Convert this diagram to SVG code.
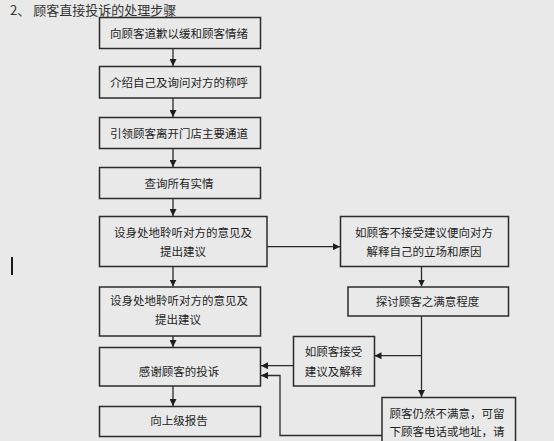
<svg xmlns="http://www.w3.org/2000/svg" width="554" height="441" viewBox="0 0 554 441">
<defs>
<style>
.box{fill:#e9e9e9;stroke:#2b2b2b;stroke-width:1.5}
.t{font-family:"Noto Sans CJK SC","Noto Sans",sans-serif;font-size:11.5px;fill:#1e1e1e;text-anchor:middle;dominant-baseline:central}
.ln{fill:none;stroke:#2b2b2b;stroke-width:1.3}
.title{font-family:"Noto Sans CJK SC","Noto Sans",sans-serif;font-size:13px;fill:#333;dominant-baseline:central}
</style>
<marker id="ah" markerWidth="7" markerHeight="7" refX="7" refY="3.5" orient="auto" markerUnits="userSpaceOnUse">
<path d="M0,0 L7,3.5 L0,7 z" fill="#1e1e1e"/>
</marker>
</defs>
<rect width="554" height="441" fill="#e9e9e9"/>
<text class="title" x="10" y="9.5">2、 顾客直接投诉的处理步骤</text>
<rect x="11" y="257" width="2" height="18" fill="#1a1a1a"/>

<g id="connectors">
<line class="ln" x1="173" y1="48" x2="173" y2="66" marker-end="url(#ah)"/>
<line class="ln" x1="173" y1="98" x2="173" y2="117" marker-end="url(#ah)"/>
<line class="ln" x1="173" y1="148" x2="173" y2="167" marker-end="url(#ah)"/>
<line class="ln" x1="173" y1="198" x2="173" y2="216" marker-end="url(#ah)"/>
<line class="ln" x1="173" y1="266" x2="173" y2="286.5" marker-end="url(#ah)"/>
<line class="ln" x1="173" y1="336" x2="173" y2="347" marker-end="url(#ah)"/>
<line class="ln" x1="173" y1="386" x2="173" y2="406" marker-end="url(#ah)"/>
<line class="ln" x1="267" y1="246.7" x2="340" y2="246.7" marker-end="url(#ah)"/>
<line class="ln" x1="421.5" y1="266" x2="421.5" y2="286.5" marker-end="url(#ah)"/>
<line class="ln" x1="421.5" y1="316" x2="421.5" y2="397" marker-end="url(#ah)"/>
<line class="ln" x1="421.5" y1="355.7" x2="374.5" y2="355.7" marker-end="url(#ah)"/>
<line class="ln" x1="293.5" y1="365.7" x2="261" y2="365.7" marker-end="url(#ah)"/>
<polyline class="ln" points="382,435.5 280,435.5 280,375.5 261,375.5" marker-end="url(#ah)"/>
</g>

<g id="n1"><rect class="box" x="99.5" y="17.5" width="161" height="31"/><text class="t" x="179" y="33">向顾客道歉以缓和顾客情绪</text></g>
<g id="n2"><rect class="box" x="99.5" y="66.5" width="161" height="31.5"/><text class="t" x="179" y="82">介绍自己及询问对方的称呼</text></g>
<g id="n3"><rect class="box" x="99.5" y="117.5" width="161" height="31"/><text class="t" x="179" y="133">引领顾客离开门店主要通道</text></g>
<g id="n4"><rect class="box" x="99.5" y="167.5" width="161" height="31"/><text class="t" x="179" y="183">查询所有实情</text></g>
<g id="n5"><rect class="box" x="99.5" y="216.5" width="167.5" height="50"/><text class="t" x="183" y="231.5">设身处地聆听对方的意见及</text><text class="t" x="183" y="250.5">提出建议</text></g>
<g id="n6"><rect class="box" x="99.5" y="287" width="161" height="49"/><text class="t" x="179" y="300">设身处地聆听对方的意见及</text><text class="t" x="178" y="318.5">提出建议</text></g>
<g id="n7"><rect class="box" x="99.5" y="347.5" width="161" height="38.5"/><text class="t" x="179" y="370.5">感谢顾客的投诉</text></g>
<g id="n8"><rect class="box" x="99.5" y="406.5" width="161" height="30"/><text class="t" x="179" y="420">向上级报告</text></g>
<g id="nA"><rect class="box" x="340.5" y="216.5" width="168" height="50"/><text class="t" x="424" y="232">如顾客不接受建议便向对方</text><text class="t" x="424" y="251">解释自己的立场和原因</text></g>
<g id="nB"><rect class="box" x="348" y="287" width="160.5" height="29"/><text class="t" x="427.5" y="300.5">探讨顾客之满意程度</text></g>
<g id="nD"><rect class="box" x="293.5" y="336.5" width="81" height="49.5"/><text class="t" x="333.5" y="351">如顾客接受</text><text class="t" x="333.5" y="370.5">建议及解释</text></g>
<g id="nC"><rect class="box" x="382" y="397.5" width="133.5" height="50"/><text class="t" x="447" y="412.5">顾客仍然不满意，可留</text><text class="t" x="447" y="431">下顾客电话或地址，请</text></g>
</svg>
